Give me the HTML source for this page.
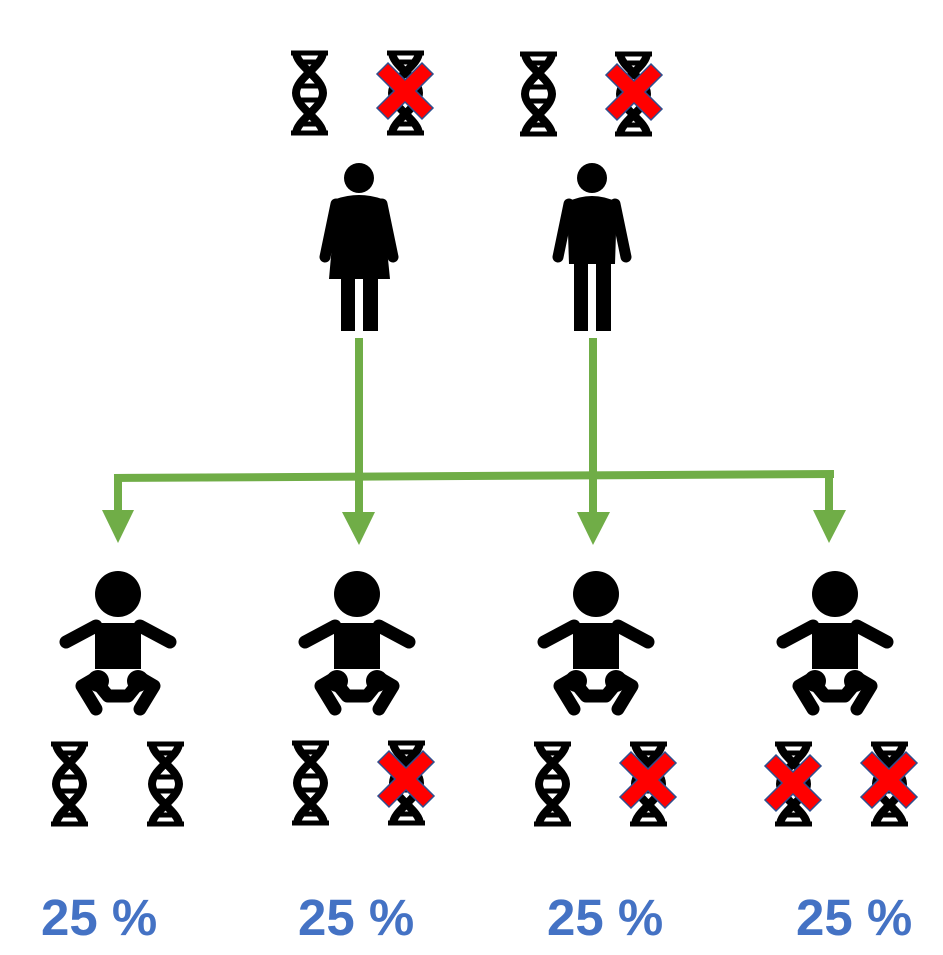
<!DOCTYPE html>
<html><head><meta charset="utf-8"><style>
html,body{margin:0;padding:0;background:#fff;width:943px;height:955px;overflow:hidden}
.pct{position:absolute;top:888px;font:bold 51px "Liberation Sans",sans-serif;color:#4472C4;white-space:nowrap}
</style></head><body>
<svg width="943" height="955" style="position:absolute;left:0;top:0">
<defs>
<g id="dna">
<path d="M7,2 C7,16 34,28 34,43 C34,58 7,70 7,84" fill="none" stroke="#000" stroke-width="8"/>
<path d="M34,2 C34,16 7,28 7,43 C7,58 34,70 34,84" fill="none" stroke="#000" stroke-width="8"/>
<path d="M2,3 H39 M10,12 H31 M7,36 H34 M7,50 H34 M10,74 H31 M2,83 H39" stroke="#000" stroke-width="5"/>
</g>
<g id="xmark">
<polygon points="-17,-28 0,-11 17,-28 28,-17 11,0 28,17 17,28 0,11 -17,28 -28,17 -11,0 -28,-17" fill="#f00" stroke="#2f4f8f" stroke-width="1.5"/>
</g>
<g id="baby">
<circle cx="0" cy="0" r="23" fill="#000"/>
<path d="M-23,29 H23 V75 H-23 Z" fill="#000"/>
<path d="M-22,32 L-52,48 M22,32 L52,48" stroke="#000" stroke-width="13" stroke-linecap="round"/>
<path d="M-14,75 H14 L10,85 H-10 Z" fill="#fff"/>
<path d="M-36,92 L-24,85 L-10,102 L10,102 L24,85 L36,92 L22,115 M-36,92 L-22,115" stroke="#000" stroke-width="13" stroke-linecap="round" stroke-linejoin="round" fill="none"/>
<circle cx="-20" cy="87" r="11" fill="#000"/><circle cx="20" cy="87" r="11" fill="#000"/>
</g>
</defs>
<use href="#dna" x="289" y="50"/>
<use href="#dna" x="385" y="50"/>
<use href="#xmark" x="405" y="91"/>
<use href="#dna" x="518" y="51"/>
<use href="#dna" x="613" y="51"/>
<use href="#xmark" x="634" y="92"/>
<g>
<circle cx="359" cy="178" r="15" fill="#000"/>
<path d="M336,199 Q359,191 382,199 L390,279 H329 Z" fill="#000"/>
<path d="M336,204 L325,257 M382,204 L393,257" stroke="#000" stroke-width="11" stroke-linecap="round"/>
<rect x="341" y="278" width="14" height="53" fill="#000"/><rect x="363" y="278" width="15" height="53" fill="#000"/>
</g>
<g>
<circle cx="592" cy="178" r="15" fill="#000"/>
<path d="M567,202 Q592,190 617,202 L615,264 H569 Z" fill="#000"/>
<path d="M569,204 L558,257 M615,204 L626,257" stroke="#000" stroke-width="11" stroke-linecap="round"/>
<rect x="574" y="262" width="14" height="69" fill="#000"/><rect x="596" y="262" width="15" height="69" fill="#000"/>
</g>
<g stroke="#70AD47" stroke-width="8" fill="#70AD47">
<line x1="359" y1="338" x2="359" y2="515"/>
<line x1="593" y1="338" x2="593" y2="515"/>
<line x1="114" y1="478" x2="834" y2="474"/>
<line x1="118" y1="478" x2="118" y2="515"/>
<line x1="829" y1="474" x2="829" y2="515"/>
<polygon stroke="none" points="102,510 134,510 118,543"/>
<polygon stroke="none" points="342,512 375,512 359,545"/>
<polygon stroke="none" points="577,512 610,512 593,545"/>
<polygon stroke="none" points="813,510 846,510 829,543"/>
</g>
<use href="#baby" x="118" y="594"/>
<use href="#baby" x="357" y="594"/>
<use href="#baby" x="596" y="594"/>
<use href="#baby" x="835" y="594"/>
<use href="#dna" x="49" y="741"/>
<use href="#dna" x="145" y="741"/>
<use href="#dna" x="290" y="740"/>
<use href="#dna" x="386" y="740"/>
<use href="#xmark" x="406" y="779"/>
<use href="#dna" x="532" y="741"/>
<use href="#dna" x="628" y="741"/>
<use href="#xmark" x="648" y="780"/>
<use href="#dna" x="773" y="741"/>
<use href="#xmark" x="793" y="783"/>
<use href="#dna" x="869" y="741"/>
<use href="#xmark" x="889" y="780"/>
</svg>
<div class="pct" style="left:41px">25 %</div>
<div class="pct" style="left:298px">25 %</div>
<div class="pct" style="left:547px">25 %</div>
<div class="pct" style="left:796px">25 %</div>
</body></html>
